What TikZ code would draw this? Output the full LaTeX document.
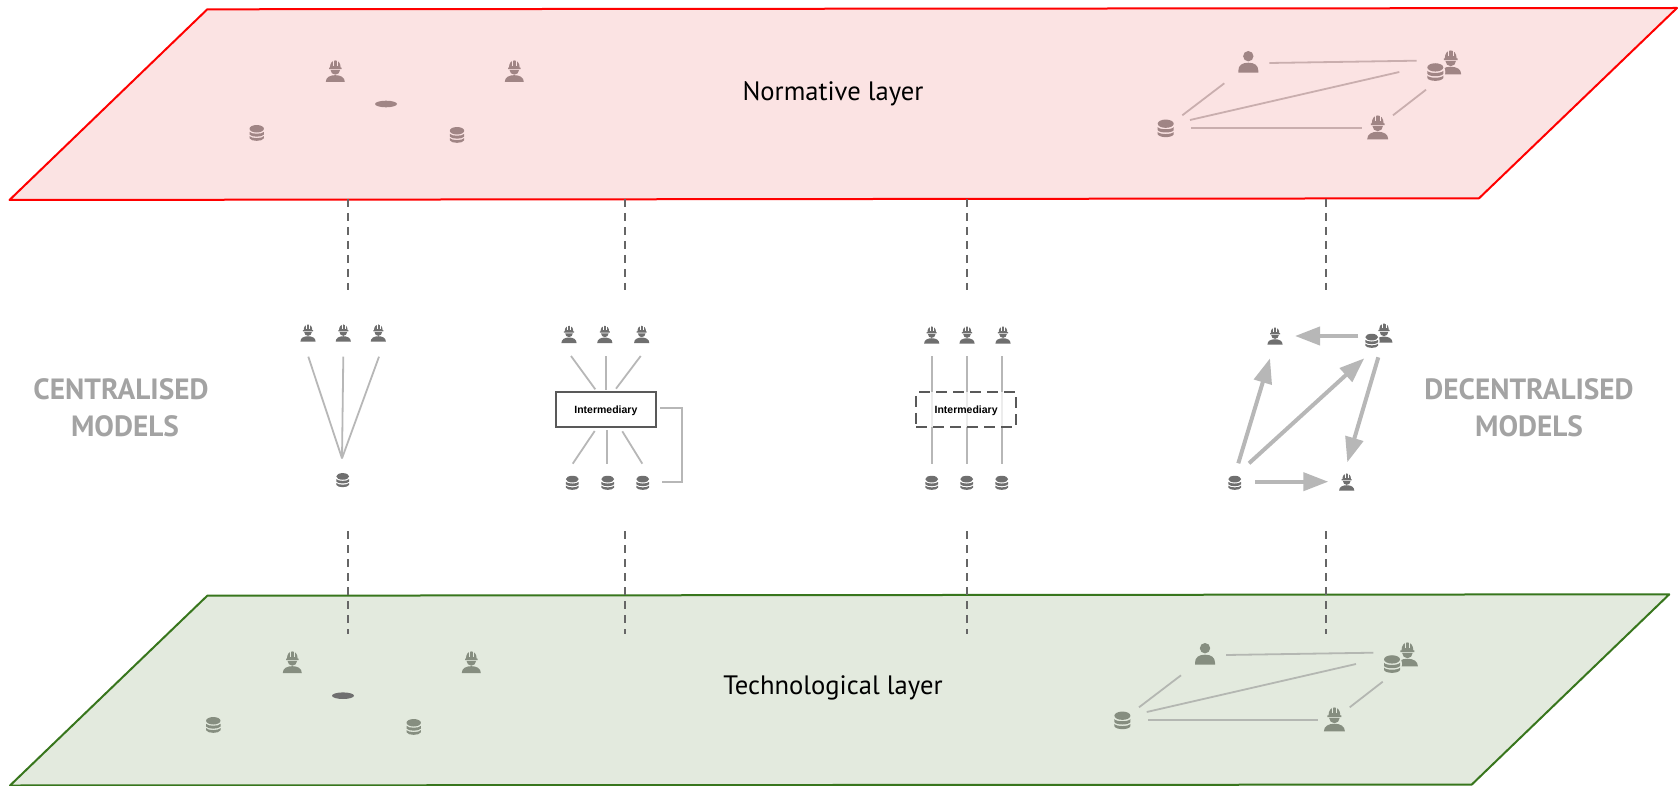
\documentclass[tikz,border=0pt]{standalone}
\usepackage{fontspec}
\setmainfont{PT Sans}
\newfontfamily\helv{Liberation Sans}
\usetikzlibrary{arrows.meta}
\definecolor{redfill}{HTML}{FBE3E3}
\definecolor{redline}{HTML}{FF0000}
\definecolor{greenfill}{HTML}{E3EADE}
\definecolor{greenline}{HTML}{38761D}
\definecolor{iconred}{HTML}{A08585}
\definecolor{icongreen}{HTML}{868E80}
\definecolor{icongrey}{HTML}{6F6F6F}
\definecolor{linkred}{HTML}{C9AEAE}
\definecolor{linkgreen}{HTML}{B4B7B2}
\definecolor{linkgrey}{HTML}{B7B7B7}
\definecolor{boxline}{HTML}{595959}
\definecolor{guidegrey}{HTML}{666666}
\definecolor{sidetext}{HTML}{A3A3A3}
\tikzset{
  x=1pt,y=-1pt,
  layerR/.style={draw=redline,fill=redfill,line width=2pt,line join=round},
  layerG/.style={draw=greenline,fill=greenfill,line width=2pt,line join=round},
  guide/.style={draw=guidegrey,line width=1.8pt,dash pattern=on 8.3pt off 5.7pt},
  linkR/.style={draw=linkred,line width=1.8pt},
  linkG/.style={draw=linkgreen,line width=1.8pt},
  link/.style={draw=linkgrey,line width=1.8pt},
  bigarrow/.style={draw=linkgrey,line width=4pt,-{Triangle[length=25pt,width=18pt,fill=linkgrey]}},
  interbox/.style={draw=boxline,line width=2pt,minimum width=100pt,minimum height=34.6pt,inner sep=0pt,font=\helv\bfseries\fontsize{10.5}{12}\selectfont},
  layertext/.style={font=\fontsize{26.6}{32}\selectfont,text=black},
  sidelabel/.style={font=\bfseries\fontsize{29.3}{37.5}\selectfont,text=sidetext,align=center},
  pics/worker/.style 2 args={code={
    \fill[#1] (-1,0) .. controls (-1,-.5) and (-.55,-.72) .. (0,-.72) .. controls (.55,-.72) and (1,-.5) .. (1,0) -- cycle;
    \fill[#1] (-.5,-1.27) arc[start angle=180,end angle=0,x radius=.5,y radius=.5] -- cycle;
    \fill[#1] (-.66,-1.36) -- (.66,-1.36) -- (.66,-1.52) -- (.56,-1.52) .. controls (.56,-2) and (.3,-2.27) .. (0,-2.27) .. controls (-.3,-2.27) and (-.56,-2) .. (-.56,-1.52) -- (-.66,-1.52) -- cycle;
    \draw[#2,line width=.4pt] (-.2,-1.72) -- (-.2,-2.3) (.2,-1.72) -- (.2,-2.3);
  }},
  pics/database/.style 2 args={code={
    \fill[#1] (0,-1.7) ellipse[x radius=1,y radius=.52];
    \fill[#1] (-1,-1.28) .. controls (-.8,-.92) and (.8,-.92) .. (1,-1.28) -- (1,-.9) .. controls (.8,-.5) and (-.8,-.5) .. (-1,-.9) -- cycle;
    \fill[#1] (-1,-.68) .. controls (-.8,-.32) and (.8,-.32) .. (1,-.68) -- (1,-.38) .. controls (.8,.1) and (-.8,.1) .. (-1,-.38) -- cycle;
  }},
  pics/person/.style={code={
    \fill[#1] (-1,0) -- (-1,-.2) .. controls (-1,-.75) and (-.6,-1) .. (0,-1) .. controls (.6,-1) and (1,-.75) .. (1,-.2) -- (1,0) -- cycle;
    \fill[#1] (0,-1.65) circle[radius=.52];
  }},
}
\newcommand{\wk}[6][]{\coordinate (#2) at (#3,#4); \pic[scale=#5] at (#2) {worker={#6}{#1}};}
\newcommand{\dbase}[6][]{\coordinate (#2) at (#3,#4); \pic[scale=#5] at (#2) {database={#6}{#1}};}
\newcommand{\prsn}[5]{\coordinate (#1) at (#2,#3); \pic[scale=#4] at (#1) {person=#5};}
\begin{document}
\begin{tikzpicture}
\useasboundingbox (0,0) rectangle (1678,786);
% layers
\coordinate (rA) at (207.3,9.3);
\coordinate (rB) at (1677,8);
\coordinate (rC) at (1479,198.3);
\coordinate (rD) at (9.5,200);
\coordinate (gA) at (207.3,595.7);
\coordinate (gB) at (1669.3,594.3);
\coordinate (gC) at (1471.7,784.6);
\coordinate (gD) at (10,785.5);
\draw[layerR] (rA) -- (rB) -- (rC) -- (rD) -- cycle;
\draw[layerG] (gA) -- (gB) -- (gC) -- (gD) -- cycle;
\node[layertext] (normative) at (833,93.5) {Normative layer};
\node[layertext] (technological) at (833,688) {Technological layer};
\node[sidelabel] (central) at (121,407.5) {CENTRALISED\\\hspace{8pt}MODELS};
\node[sidelabel] (decentral) at (1529,407.5) {DECENTRALISED\\MODELS};
% guides
\foreach \n/\gx in {a/348,b/625,c/966.8,d/1326}{
  \coordinate (up\n) at (\gx,199);
  \coordinate (um\n) at (\gx,290);
  \coordinate (lm\n) at (\gx,531);
  \coordinate (lw\n) at (\gx,634);
  \draw[guide] (up\n) -- (um\n);
  \draw[guide] (lm\n) -- (lw\n);
}
% top left
\wk[redfill]{ra}{335.3}{82}{9.5}{iconred}
\wk[redfill]{rb}{514.3}{82}{9.5}{iconred}
\fill[iconred] (386,104) ellipse[x radius=11,y radius=3.3];
\dbase[redfill]{rc}{256.7}{141}{7.2}{iconred}
\dbase[redfill]{rd}{457}{143}{7.2}{iconred}
% bottom left
\wk[greenfill]{ga}{292.3}{673}{9.5}{icongreen}
\wk[greenfill]{gb}{471.3}{673}{9.5}{icongreen}
\fill[icongrey] (343,695.7) ellipse[x radius=11,y radius=3.3];
\dbase[greenfill]{gc}{213.3}{733}{7.2}{icongreen}
\dbase[greenfill]{gd}{413.7}{735}{7.2}{icongreen}
% top right network
\prsn{rp}{1248.3}{72.7}{10}{iconred}
\dbase[redfill]{re}{1165.7}{137.3}{8}{iconred}
\wk[redfill]{rf}{1377.7}{139.3}{10.5}{iconred}
\wk[redfill]{rg}{1450.7}{74.3}{10.5}{iconred}
\fill[redfill] (1435.3,72) ellipse[x radius=10,y radius=11.5];
\dbase[redfill]{rh}{1435.3}{81}{8}{iconred}
\coordinate (r1a) at (1269.3,63);   \coordinate (r1b) at (1416.7,60.7);
\coordinate (r2a) at (1224.3,83.3); \coordinate (r2b) at (1182.3,115.3);
\coordinate (r3a) at (1190,120);    \coordinate (r3b) at (1399.3,72);
\coordinate (r4a) at (1191.3,128);  \coordinate (r4b) at (1361.7,128);
\coordinate (r5a) at (1426,89.7);   \coordinate (r5b) at (1393,115.3);
\draw[linkR] (r1a) -- (r1b);
\draw[linkR] (r2a) -- (r2b);
\draw[linkR] (r3a) -- (r3b);
\draw[linkR] (r4a) -- (r4b);
\draw[linkR] (r5a) -- (r5b);
% bottom right network
\prsn{gp}{1205}{664.7}{10}{icongreen}
\dbase[greenfill]{ge}{1122.4}{729.3}{8}{icongreen}
\wk[greenfill]{gf}{1334.4}{731.3}{10.5}{icongreen}
\wk[greenfill]{gg}{1407.4}{666.3}{10.5}{icongreen}
\fill[greenfill] (1392,664) ellipse[x radius=10,y radius=11.5];
\dbase[greenfill]{gh}{1392}{673}{8}{icongreen}
\coordinate (g1a) at (1226,655);    \coordinate (g1b) at (1373.4,652.7);
\coordinate (g2a) at (1181,675.3);  \coordinate (g2b) at (1139,707.3);
\coordinate (g3a) at (1146.7,712);  \coordinate (g3b) at (1356,664);
\coordinate (g4a) at (1148,720);    \coordinate (g4b) at (1318.4,720);
\coordinate (g5a) at (1382.7,681.7);\coordinate (g5b) at (1349.7,707.3);
\draw[linkG] (g1a) -- (g1b);
\draw[linkG] (g2a) -- (g2b);
\draw[linkG] (g3a) -- (g3b);
\draw[linkG] (g4a) -- (g4b);
\draw[linkG] (g5a) -- (g5b);
% column 1
\wk[white]{a1}{308}{341.7}{7.6}{icongrey}
\wk[white]{a2}{343.3}{341.7}{7.6}{icongrey}
\wk[white]{a3}{378.3}{341.7}{7.6}{icongrey}
\dbase[white]{a4}{342.7}{487.3}{6.4}{icongrey}
\coordinate (af) at (342,458.3);
\coordinate (a1e) at (308.3,356.7);
\coordinate (a2e) at (343.3,356.7);
\coordinate (a3e) at (379,356.7);
\draw[link] (a1e) -- (af);
\draw[link] (a2e) -- (af);
\draw[link] (a3e) -- (af);
% column 2
\wk[white]{b1}{569}{343}{7.6}{icongrey}
\wk[white]{b2}{604.8}{343}{7.6}{icongrey}
\wk[white]{b3}{641.7}{343}{7.6}{icongrey}
\dbase[white]{b4}{572.3}{490}{6.4}{icongrey}
\dbase[white]{b5}{607.7}{490}{6.4}{icongrey}
\dbase[white]{b6}{642.7}{490}{6.4}{icongrey}
\node[interbox] (im1) at (605.85,409.65) {\smash{\raisebox{-4pt}{Intermediary}}};
\coordinate (b1e) at (571,356);     \coordinate (b1f) at (595.3,389.3);
\coordinate (b2e) at (605.7,356);   \coordinate (b2f) at (605.7,390);
\coordinate (b3e) at (640.7,356);   \coordinate (b3f) at (616,388.7);
\coordinate (b4e) at (594.7,431);   \coordinate (b4f) at (572.7,463.7);
\coordinate (b5e) at (607.3,430);   \coordinate (b5f) at (607.3,463.7);
\coordinate (b6e) at (622.3,431.3); \coordinate (b6f) at (642.3,463.7);
\draw[link] (b1e) -- (b1f);
\draw[link] (b2e) -- (b2f);
\draw[link] (b3e) -- (b3f);
\draw[link] (b4e) -- (b4f);
\draw[link] (b5e) -- (b5f);
\draw[link] (b6e) -- (b6f);
\coordinate (bra) at (660,407.7);
\coordinate (brb) at (682,407.7);
\coordinate (brc) at (682,482.3);
\coordinate (brd) at (661.7,482.3);
\draw[link] (bra) -- (brb) -- (brc) -- (brd);
% column 3
\wk[white]{c1}{931.7}{343.7}{7.6}{icongrey}
\wk[white]{c2}{967}{343.7}{7.6}{icongrey}
\wk[white]{c3}{1003}{343.7}{7.6}{icongrey}
\dbase[white]{c4}{931.7}{490}{6.4}{icongrey}
\dbase[white]{c5}{966.7}{490}{6.4}{icongrey}
\dbase[white]{c6}{1001.7}{490}{6.4}{icongrey}
\foreach \n/\ix in {1/932,2/967,3/1002}{
  \coordinate (c\n u) at (\ix,356);
  \coordinate (c\n d) at (\ix,463.7);
  \draw[link] (c\n u) -- (c\n d);
}
\node[interbox,dash pattern=on 11pt off 6pt,fill=white,fill opacity=.75,text opacity=1] (im2) at (966.15,409.65) {\smash{\raisebox{-4pt}{Intermediary}}};
% column 4
\wk[white]{d1}{1275}{344.7}{7.6}{icongrey}
\wk[white]{d2}{1384}{342.7}{8.5}{icongrey}
\fill[white] (1371.7,341) ellipse[x radius=8,y radius=9];
\dbase[white]{d3}{1371.7}{348}{6.4}{icongrey}
\dbase[white]{d4}{1234.7}{490}{6.4}{icongrey}
\wk[white]{d5}{1346.7}{490.7}{7.6}{icongrey}
\coordinate (d1s) at (1358.3,336);  \coordinate (d1t) at (1295,336);
\coordinate (d2s) at (1238.3,463.3);\coordinate (d2t) at (1270,358.3);
\coordinate (d3s) at (1249,463.3);  \coordinate (d3t) at (1364.3,358.3);
\coordinate (d4s) at (1378.3,357.3);\coordinate (d4t) at (1347.3,462.3);
\coordinate (d5s) at (1255,481.7);  \coordinate (d5t) at (1328.3,481.7);
\draw[bigarrow] (d1s) -- (d1t);
\draw[bigarrow] (d2s) -- (d2t);
\draw[bigarrow] (d3s) -- (d3t);
\draw[bigarrow] (d4s) -- (d4t);
\draw[bigarrow] (d5s) -- (d5t);
\end{tikzpicture}
\end{document}
